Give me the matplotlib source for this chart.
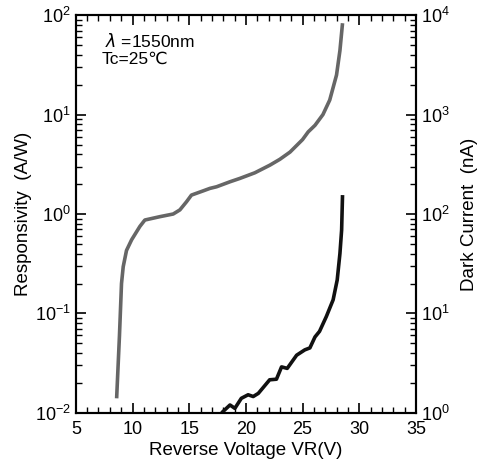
import matplotlib
matplotlib.use("Agg")
import matplotlib.pyplot as plt
from matplotlib.ticker import LogLocator, MultipleLocator, NullFormatter

plt.rcParams['font.family'] = ['Liberation Sans', 'DejaVu Sans']
plt.rcParams['mathtext.fontset'] = 'custom'
plt.rcParams['mathtext.rm'] = 'Liberation Sans'

# Responsivity (A/W) vs reverse voltage
resp_v = [8.6, 8.85, 9.03, 9.18, 9.47, 9.92, 10.65, 11.09, 12.41, 13.59, 14.18,
          14.77, 15.2, 16.24, 16.83, 17.42, 18.6, 19.47, 20.8, 22.12, 23.0, 23.9,
          25.0, 25.5, 26.1, 26.8, 27.4, 28.0, 28.3, 28.53]
resp_a = [0.014, 0.06, 0.20, 0.295, 0.43, 0.55, 0.75, 0.87, 0.94, 1.0, 1.1,
          1.33, 1.55, 1.71, 1.81, 1.88, 2.11, 2.28, 2.6, 3.1, 3.55, 4.2,
          5.6, 6.7, 7.8, 10.0, 14.0, 25.0, 44.0, 83.0]

# Dark current (nA) vs reverse voltage
dark_v = [17.86, 18.6, 19.03, 19.6, 20.2, 20.65, 21.1, 22.1, 22.7, 23.15, 23.65,
          24.48, 25.2, 25.65, 26.1, 26.5, 27.1, 27.7, 28.06, 28.3, 28.45, 28.53]
dark_i = [1.0, 1.2, 1.11, 1.4, 1.52, 1.46, 1.57, 2.15, 2.18, 2.9, 2.8,
          3.8, 4.3, 4.5, 5.8, 6.6, 9.3, 13.7, 21.7, 40.0, 69.0, 155.0]

fig = plt.figure(figsize=(4.83, 4.74), dpi=100)
ax = fig.add_axes([0.157, 0.129, 0.704, 0.839])
ax2 = ax.twinx()

ax.plot(resp_v, resp_a, color='#666666', lw=2.6, solid_capstyle='butt')
ax2.plot(dark_v, dark_i, color='#111111', lw=2.6, solid_capstyle='butt')

ax.set_xlim(5, 35)
ax.set_yscale('log')
ax.set_ylim(1e-2, 1e2)
ax2.set_yscale('log')
ax2.set_ylim(1e0, 1e4)

ax.xaxis.set_major_locator(MultipleLocator(5))
ax.xaxis.set_minor_locator(MultipleLocator(1))
for a in (ax, ax2):
    a.yaxis.set_major_locator(LogLocator(base=10))
    a.yaxis.set_minor_locator(LogLocator(base=10, subs=range(2, 10)))
    a.yaxis.set_minor_formatter(NullFormatter())

ax.tick_params(axis='x', which='both', direction='in', top=True, labelsize=13, pad=6)
ax.tick_params(axis='y', which='both', direction='in', right=False, labelsize=13)
ax2.tick_params(axis='y', which='both', direction='in', labelsize=13)
for a in (ax, ax2):
    a.tick_params(which='major', length=7, width=1.2)
    a.tick_params(which='minor', length=4, width=1.0)
    for s in a.spines.values():
        s.set_linewidth(1.5)

ax.set_xlabel('Reverse Voltage VR(V)', fontsize=13.5, labelpad=3)
ax.set_ylabel('Responsivity  (A/W)', fontsize=13.5, labelpad=2)
ax2.set_ylabel('Dark Current  (nA)', fontsize=13.5, labelpad=8)

ax.text(0.085, 0.936, '$\\lambda$ =1550nm', transform=ax.transAxes, fontsize=12.5, va='center')
ax.text(0.076, 0.889, 'Tc=25\u2103', transform=ax.transAxes, fontsize=12.5, va='center')

fig.savefig('out.png', dpi=100)
